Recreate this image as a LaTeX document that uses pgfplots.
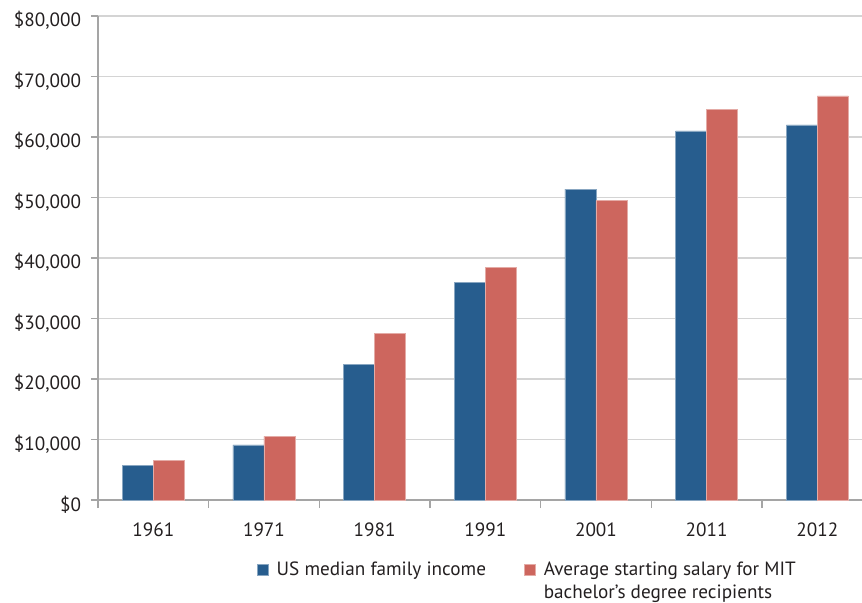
\documentclass[border=0pt]{standalone}
\usepackage{fontspec}
\setmainfont{PT Sans}
\usepackage{pgfplots}
\pgfplotsset{compat=1.18}
\definecolor{cblue}{RGB}{39,93,142}
\definecolor{cred}{RGB}{205,102,94}
\definecolor{gridc}{RGB}{212,212,212}
\definecolor{axc}{RGB}{165,165,165}
\definecolor{txt}{RGB}{35,31,32}
\begin{document}
\begin{tikzpicture}[font=\fontsize{19.2bp}{27bp}\selectfont, text=txt]
\path[use as bounding box] (-98bp,-103bp) rectangle (764bp,500bp);
\begin{axis}[
  at={(0,0)}, anchor=south west,
  scale only axis, width=764bp, height=484bp,
  xmin=-0.5, xmax=6.404, ymin=0, ymax=80000,
  ybar=0pt, bar width=31bp,
  axis x line*=bottom, axis y line*=left,
  axis line style={draw=axc, line width=1.3bp},
  tick align=outside,
  major tick length=7bp, minor tick length=8bp,
  scaled y ticks=false,
  ytick={0,10000,20000,30000,40000,50000,60000,70000,80000},
  yticklabels={{\textnormal{\$0}},{\textnormal{\$10,000}},{\textnormal{\$20,000}},{\textnormal{\$30,000}},{\textnormal{\$40,000}},{\textnormal{\$50,000}},{\textnormal{\$60,000}},{\textnormal{\$70,000}},{\textnormal{\$80,000}}},
  yticklabel style={xshift=-6.5bp, yshift=-4.5bp},
  ytick style={draw=axc, line width=1.3bp},
  xtick={0,1,2,3,4,5,6},
  xticklabels={{\textnormal{1961}},{\textnormal{1971}},{\textnormal{1981}},{\textnormal{1991}},{\textnormal{2001}},{\textnormal{2011}},{\textnormal{2012}}},
  major x tick style={draw=none},
  minor xtick={-0.5,0.5,1.5,2.5,3.5,4.5,5.5,6.5},
  minor x tick style={draw=axc, line width=1.3bp},
  xticklabel style={yshift=-12bp},
  ymajorgrids, major grid style={draw=gridc, line width=1.5bp},
  legend columns=2,
  legend style={draw=none, fill=none, inner sep=0pt, outer sep=0pt,
    at={(159bp,-55bp)}, anchor=north west,
    /tikz/every odd column/.style={column sep=6bp},
    /tikz/every even column/.style={column sep=36bp},
    cells={anchor=base west}},
  legend image code/.code={\fill[#1] (0bp,1bp) rectangle (11bp,12bp);},
  clip=false,
]
\addplot[fill=cblue, draw=cblue!55!white, line width=0.7bp] coordinates {
  (0,5700) (1,9100) (2,22400) (3,36000) (4,51400) (5,61000) (6,62000)};
\addplot[fill=cred, draw=cred!55!white, line width=0.7bp] coordinates {
  (0,6500) (1,10500) (2,27600) (3,38500) (4,49500) (5,64500) (6,66800)};
\legend{US median family income,{\begin{tabular}[t]{@{}l@{}}Average starting salary for MIT\\[-4bp]bachelor’s degree recipients\end{tabular}}}
\end{axis}
\end{tikzpicture}
\end{document}
